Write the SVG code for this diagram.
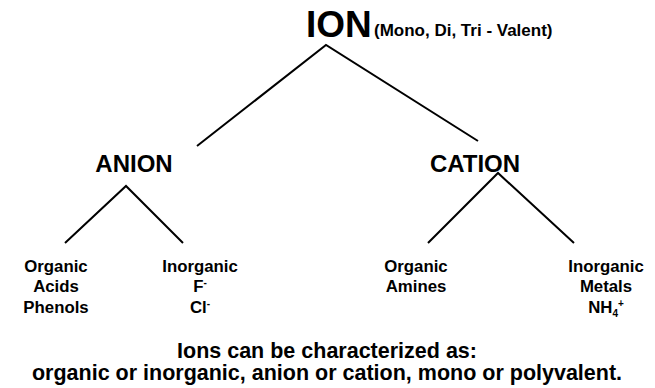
<svg xmlns="http://www.w3.org/2000/svg" width="655" height="388" viewBox="0 0 655 388">
<style>
text{font-family:"Liberation Sans",Arial,sans-serif;font-weight:bold;fill:#000}
.big{font-size:37px}
.mid{font-size:24px}
.leaf{font-size:16.8px;text-anchor:middle}
.sub{font-size:17px}
.foot{font-size:21.5px;text-anchor:middle}
.edge{fill:none;stroke:#000;stroke-width:2}
</style>
<rect width="655" height="388" fill="#fff"/>
<g id="connectors">
<polyline class="edge" points="197,146 326,45 478,141"/>
<polyline class="edge" points="65,243 126,186 183,243"/>
<polyline class="edge" points="428,243 498,173 574,243"/>
</g>
<g id="ion">
<text class="big" x="306" y="37">ION</text>
<text class="sub" x="374" y="36">(Mono, Di, Tri - Valent)</text>
</g>
<g id="anion"><text class="mid" x="134" y="172" text-anchor="middle">ANION</text></g>
<g id="cation"><text class="mid" x="475" y="172" text-anchor="middle">CATION</text></g>
<g id="anion-organic">
<text class="leaf" x="56" y="272">Organic</text>
<text class="leaf" x="56" y="292">Acids</text>
<text class="leaf" x="56" y="313">Phenols</text>
</g>
<g id="anion-inorganic">
<text class="leaf" x="200" y="272">Inorganic</text>
<text class="leaf" x="200" y="292">F<tspan font-size="10" dy="-6">-</tspan></text>
<text class="leaf" x="200" y="313">Cl<tspan font-size="10" dy="-6">-</tspan></text>
</g>
<g id="cation-organic">
<text class="leaf" x="416" y="272">Organic</text>
<text class="leaf" x="416" y="292">Amines</text>
</g>
<g id="cation-inorganic">
<text class="leaf" x="606" y="272">Inorganic</text>
<text class="leaf" x="606" y="292">Metals</text>
<text class="leaf" x="606" y="313">NH<tspan font-size="10" dy="4">4</tspan><tspan font-size="10" dy="-10">+</tspan></text>
</g>
<g id="caption">
<text class="foot" x="327" y="358">Ions can be characterized as:</text>
<text class="foot" x="327" y="380">organic or inorganic, anion or cation, mono or polyvalent.</text>
</g>
</svg>
